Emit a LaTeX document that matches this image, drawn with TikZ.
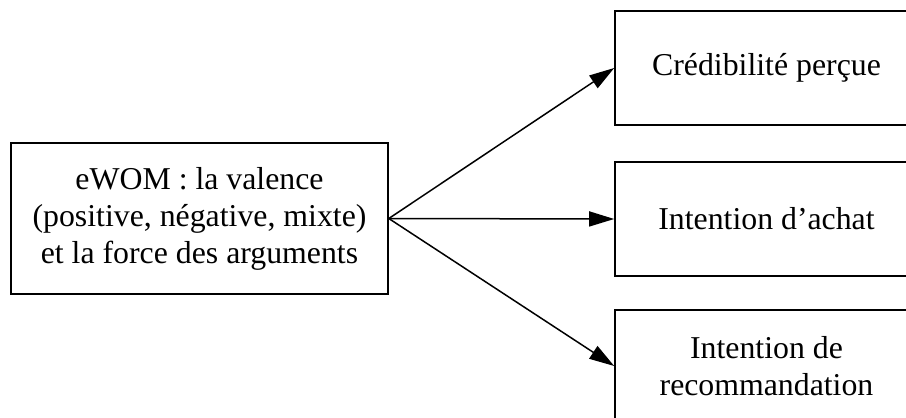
\documentclass[tikz,border=0pt]{standalone}
\usepackage{fontspec}
\setmainfont{Liberation Serif}
\usetikzlibrary{arrows.meta}
\tikzset{
  box/.style={draw, line width=1.6pt, rectangle, align=center, inner sep=0pt,
    font=\fontsize{31.8}{37}\selectfont},
  conn/.style={line width=1.5pt, -{Triangle[length=25pt,width=15pt]}}
}
\begin{document}
\begin{tikzpicture}[x=1pt,y=-1pt]
\useasboundingbox (0,0) rectangle (906,418);
\node[box, minimum width=377pt, minimum height=151pt] (src) at (199.5,218.5)
  {eWOM : la valence\\(positive, négative, mixte)\\et la force des arguments};
\node[box, minimum width=303pt, minimum height=114pt] (cred) at (766.5,68) {Crédibilité perçue};
\node[box, minimum width=303pt, minimum height=114pt] (achat) at (766.5,219) {Intention d’achat};
\node[box, minimum width=303pt, minimum height=112pt] (reco) at (766.5,366) {Intention de\\recommandation};
\draw[conn] (src.east) -- (cred.west);
\draw[conn] (src.east) -- (achat.west);
\draw[conn] (src.east) -- (reco.west);
\end{tikzpicture}
\end{document}
